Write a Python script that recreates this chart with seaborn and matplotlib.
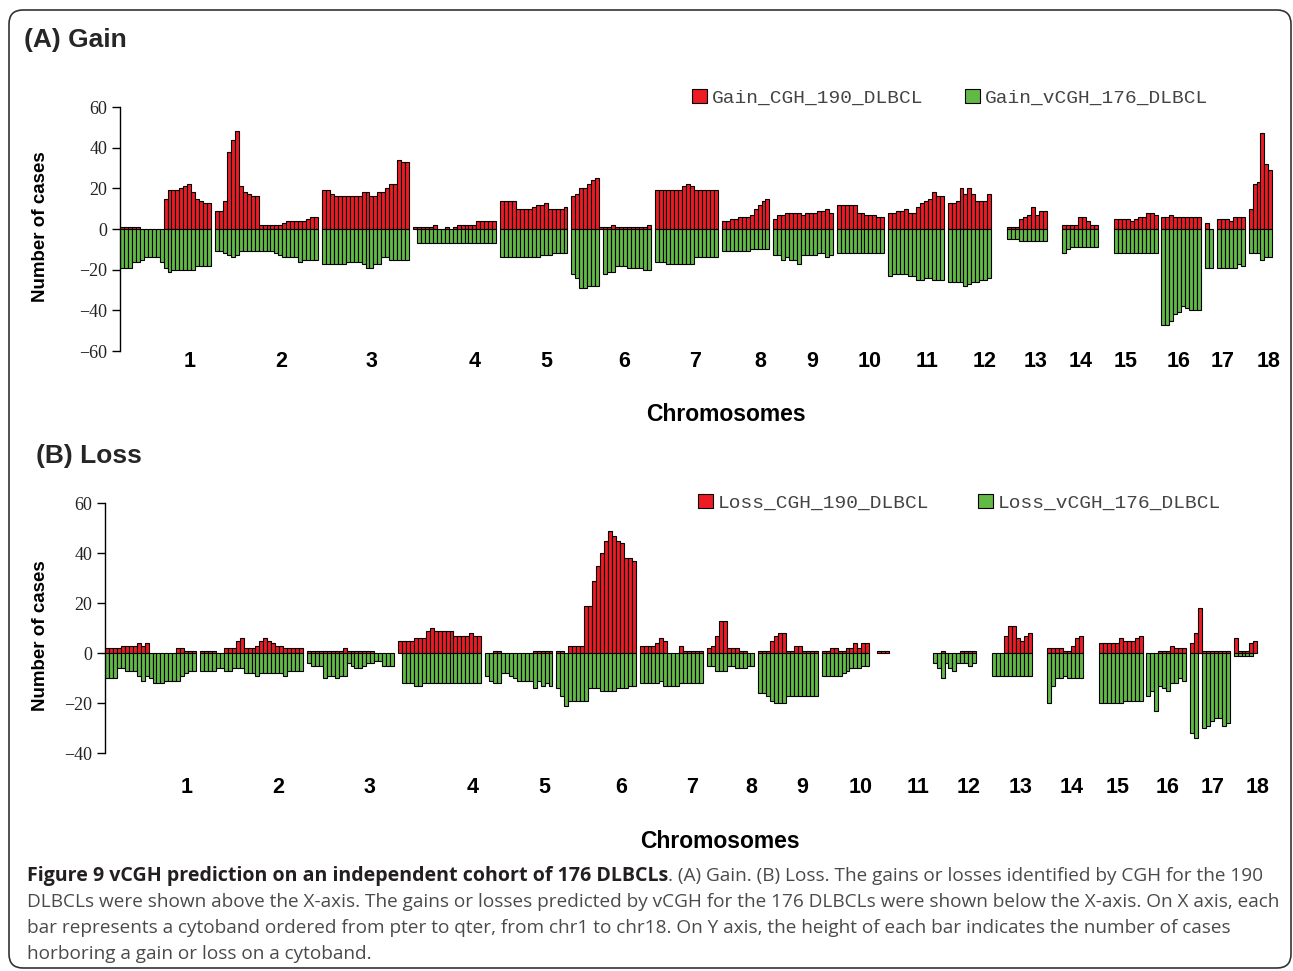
import numpy as np
import pandas as pd
import matplotlib
matplotlib.use("Agg")
import matplotlib.pyplot as plt
from matplotlib.patches import Patch, FancyBboxPatch
from matplotlib.transforms import IdentityTransform
import seaborn as sns

# ---------------- data ----------------
chromosomes = [str(i) for i in range(1, 19)]

# cytobands ordered pter->qter, chr1..chr18 (0 = no case / empty band)
gain_cgh = [
    1, 1, 1, 1, 1, 0, 0, 0, 0, 0, 0, 15, 19, 19, 19, 20, 21, 22, 18, 15, 14, 13, 13, 0,
    9, 9, 14, 38, 44, 48, 21, 18, 17, 16, 16, 2, 2, 2, 2, 2, 2, 3, 4, 4, 4, 4, 4, 5, 6, 6, 0,
    19, 19, 17, 16, 16, 16, 16, 16, 16, 16, 18, 18, 16, 16, 18, 18, 20, 22, 22, 34, 33, 33, 0,
    1, 1, 1, 1, 1, 2, 0, 0, 1, 0, 1, 2, 2, 2, 2, 2, 4, 4, 4, 4, 4, 0,
    14, 14, 14, 14, 10, 10, 10, 10, 11, 12, 12, 13, 10, 10, 10, 10, 11, 0,
    16, 17, 20, 20, 22, 24, 25,
    1, 1, 1, 2, 1, 1, 1, 1, 1, 1, 1, 1, 2, 0,
    19, 19, 19, 19, 19, 19, 19, 21, 22, 21, 19, 19, 19, 19, 19, 19, 0,
    4, 4, 5, 5, 6, 6, 6, 7, 10, 12, 14, 15, 0,
    5, 7, 7, 8, 8, 8, 8, 7, 8, 8, 8, 9, 9, 10, 8, 0,
    12, 12, 12, 12, 12, 8, 8, 7, 7, 7, 6, 6, 0,
    8, 8, 9, 9, 10, 8, 8, 11, 13, 14, 15, 18, 16, 16, 0,
    13, 13, 14, 20, 17, 20, 17, 14, 14, 14, 17, 0, 0, 0, 0,
    1, 1, 1, 5, 6, 7, 11, 7, 9, 9, 0, 0, 0, 0,
    2, 2, 2, 2, 6, 6, 4, 2, 2, 0, 0, 0, 0,
    5, 5, 5, 5, 4, 5, 6, 6, 8, 8, 7, 0,
    6, 6, 7, 6, 6, 6, 6, 6, 6, 6, 0,
    3, 0, 0,
    5, 5, 5, 4, 6, 6, 6, 0,
    10, 22, 23, 47, 32, 29,
]
gain_vcgh = [
    -19, -19, -19, -16, -16, -15, -14, -14, -14, -14, -16, -19, -21, -20, -20, -20, -20, -20, -20, -18, -18, -18, -18, 0,
    -11, -11, -12, -13, -14, -13, -11, -11, -11, -11, -11, -11, -11, -11, -11, -12, -13, -14, -14, -14, -14, -16, -15, -15, -15, -15, 0,
    -17, -17, -17, -17, -17, -17, -16, -16, -16, -16, -17, -19, -19, -17, -17, -14, -14, -15, -15, -15, -15, -15, 0,
    0, -7, -7, -7, -7, -7, -7, -7, -7, -7, -7, -7, -7, -7, -7, -7, -7, -7, -7, -7, -7, 0,
    -14, -14, -14, -14, -14, -14, -14, -14, -14, -14, -13, -13, -13, -12, -12, -12, -12, 0,
    -22, -24, -29, -29, -28, -28, -28,
    0, -22, -21, -21, -18, -18, -18, -19, -19, -19, -19, -20, -20, 0,
    -16, -16, -16, -17, -17, -17, -17, -17, -17, -17, -14, -14, -14, -14, -14, -14, 0,
    -11, -11, -11, -11, -11, -11, -11, -10, -10, -10, -10, -10, 0,
    -13, -13, -15, -14, -15, -15, -17, -13, -13, -13, -13, -12, -12, -14, -13, 0,
    -12, -12, -12, -12, -12, -12, -12, -12, -12, -12, -12, -12, 0,
    -23, -22, -22, -22, -22, -23, -23, -25, -25, -24, -24, -25, -25, -25, 0,
    -26, -26, -26, -26, -28, -27, -26, -26, -25, -25, -24, 0, 0, 0, 0,
    -5, -5, -5, -6, -6, -6, -6, -6, -6, -6, 0, 0, 0, 0,
    -12, -10, -9, -9, -9, -9, -9, -9, -9, 0, 0, 0, 0,
    -12, -12, -12, -12, -12, -12, -12, -12, -12, -12, -12, 0,
    -47, -47, -45, -42, -41, -38, -39, -40, -40, -40, 0,
    -19, -19, 0,
    -19, -19, -19, -19, -19, -17, -18, 0,
    -12, -12, -12, -15, -14, -14,
]
loss_cgh = [
    2, 2, 2, 2, 3, 3, 3, 3, 4, 3, 4, 0, 0, 0, 0, 0, 0, 0, 2, 2, 1, 1, 1, 0,
    1, 1, 1, 1, 0, 0, 2, 2, 2, 5, 6, 2, 2, 2, 3, 5, 6, 5, 4, 3, 3, 2, 2, 2, 2, 2, 0,
    1, 1, 1, 1, 1, 1, 1, 1, 1, 2, 1, 1, 1, 1, 1, 1, 1, 0, 0, 0, 0, 0, 0,
    5, 5, 5, 5, 6, 6, 6, 9, 10, 9, 9, 9, 9, 9, 7, 7, 7, 7, 8, 7, 7, 0,
    0, 0, 1, 1, 0, 0, 0, 0, 0, 0, 0, 0, 1, 1, 1, 1, 1, 0,
    1, 1, 0, 3, 3, 3, 3,
    19, 19, 29, 35, 40, 45, 49, 47, 45, 44, 38, 38, 37, 0,
    3, 3, 3, 3, 4, 6, 5, 0, 0, 0, 3, 1, 1, 1, 1, 1, 0,
    2, 3, 7, 13, 13, 2, 2, 2, 1, 1, 0, 0, 0,
    1, 1, 1, 5, 7, 8, 8, 1, 1, 3, 3, 1, 1, 1, 1, 0,
    1, 1, 2, 2, 1, 1, 2, 2, 4, 2, 4, 4, 0,
    0, 1, 1, 1, 0, 0, 0, 0, 0, 0, 0, 0, 0, 0, 0,
    0, 0, 1, 0, 0, 0, 0, 1, 1, 1, 1, 0, 0, 0, 0,
    0, 0, 0, 7, 11, 11, 6, 5, 7, 8, 0, 0, 0, 0,
    2, 2, 2, 2, 1, 1, 3, 6, 7, 0, 0, 0, 0,
    4, 4, 4, 4, 4, 6, 5, 5, 5, 6, 7, 0,
    0, 0, 0, 1, 1, 1, 3, 2, 2, 2, 0,
    4, 8, 18,
    1, 1, 1, 1, 1, 1, 1, 0,
    6, 1, 1, 1, 4, 5,
]
loss_vcgh = [
    -10, -10, -10, -6, -6, -7, -7, -7, -9, -11, -9, -10, -12, -12, -12, -11, -11, -11, -11, -9, -8, -7, -7, 0,
    -7, -7, -7, -7, -6, -6, -7, -7, -6, -6, -6, -8, -8, -8, -9, -8, -8, -8, -8, -8, -8, -9, -7, -7, -7, -7, 0,
    -4, -5, -5, -5, -10, -9, -9, -10, -9, -9, -4, -5, -6, -6, -5, -4, -4, -3, -3, -5, -5, -5, 0,
    0, -12, -12, -12, -13, -13, -12, -12, -12, -12, -12, -12, -12, -12, -12, -12, -12, -12, -12, -12, -12, 0,
    -9, -11, -12, -12, -8, -8, -9, -10, -11, -11, -11, -11, -14, -11, -13, -12, -13, 0,
    -14, -17, -21, -19, -19, -19, -19,
    -19, -14, -14, -14, -15, -15, -15, -15, -14, -14, -14, -13, -13, 0,
    -12, -12, -12, -12, -12, -11, -13, -13, -13, -13, -12, -12, -12, -12, -12, -12, 0,
    -5, -5, -7, -7, -7, -5, -5, -6, -6, -6, -5, -5, 0,
    -16, -16, -17, -19, -20, -20, -20, -17, -17, -17, -17, -17, -17, -17, -17, 0,
    -9, -9, -9, -9, -9, -8, -7, -6, -6, -6, -5, -5, 0,
    0, 0, 0, 0, 0, 0, 0, 0, 0, 0, 0, 0, 0, 0, 0,
    -4, -6, -10, -4, -6, -7, -4, -4, -4, -5, -4, 0, 0, 0, 0,
    -9, -9, -9, -9, -9, -9, -9, -9, -9, -9, 0, 0, 0, 0,
    -20, -13, -10, -10, -9, -10, -10, -10, -10, 0, 0, 0, 0,
    -20, -20, -20, -20, -20, -20, -19, -19, -19, -19, -19, 0,
    -17, -15, -23, -13, -14, -15, -12, -12, -10, -11, 0,
    -32, -34, 0,
    -30, -29, -27, -26, -26, -29, -28, 0,
    -1, -1, -1, -1, -1, 0,
]

gain_labels = ["Gain_CGH_190_DLBCL", "Gain_vCGH_176_DLBCL"]
loss_labels = ["Loss_CGH_190_DLBCL", "Loss_vCGH_176_DLBCL"]
gain_yticks = [60, 40, 20, 0, -20, -40, -60]
loss_yticks = [60, 40, 20, 0, -20, -40]

# chromosome label positions (in cytoband index units)
gain_label_pos = [17.2, 40.2, 63.1, 89.1, 107.1, 126.8, 144.7, 161.1, 174.2, 188.9,
                  203.3, 217.9, 230.8, 242.2, 253.5, 266.7, 278.0, 289.6]
loss_label_pos = [20.2, 43.2, 66.2, 92.4, 110.4, 129.8, 147.7, 162.6, 175.5, 190.2,
                  204.8, 217.7, 230.6, 243.7, 255.1, 267.9, 279.3, 290.6]

caption_bold = "Figure 9 vCGH prediction on an independent cohort of 176 DLBCLs"
caption_lines = [
    ". (A) Gain. (B) Loss. The gains or losses identified by CGH for the 190",
    "DLBCLs were shown above the X-axis. The gains or losses predicted by vCGH for the 176 DLBCLs were shown below the X-axis. On X axis, each",
    "bar represents a cytoband ordered from pter to qter, from chr1 to chr18. On Y axis, the height of each bar indicates the number of cases",
    "horboring a gain or loss on a cytoband.",
]

# ---------------- style ----------------
RED = "#ED1C24"
GREEN = "#62B946"
W, H = 1293, 971
sns.set_style("white")
plt.rcParams["font.family"] = ["Liberation Sans", "DejaVu Sans"]

fig = plt.figure(figsize=(W / 100, H / 100), dpi=100)
fig.patch.set_facecolor("white")

ax1 = fig.add_axes([120 / W, 1 - 351 / H, 1155 / W, 244 / H])
ax2 = fig.add_axes([105 / W, 1 - 753 / H, 1155 / W, 250 / H])

XMAX = -0.5 + 1155 / 3.96


def panel(ax, cgh, vcgh, labels, yticks, label_pos, leg_xy, colsp, tick_pad,
          xlab_xy, ylab_xy):
    df = pd.DataFrame({"band": np.arange(len(cgh)), "cgh": cgh, "vcgh": vcgh})
    up = df[df["cgh"] != 0]
    down = df[df["vcgh"] != 0]
    sns.barplot(data=up, x="band", y="cgh", native_scale=True, width=1.0,
                color=RED, saturation=1, edgecolor="black", linewidth=0.8,
                errorbar=None, ax=ax)
    sns.barplot(data=down, x="band", y="vcgh", native_scale=True, width=1.0,
                color=GREEN, saturation=1, edgecolor="black", linewidth=0.8,
                errorbar=None, ax=ax)
    ax.set_xlim(-0.5, XMAX)
    ax.set_ylim(min(yticks), max(yticks))
    for s in ["top", "right", "bottom"]:
        ax.spines[s].set_visible(False)
    ax.spines["left"].set_color("black")
    ax.spines["left"].set_linewidth(1.0)
    ax.set_yticks(yticks)
    ax.set_yticklabels([str(v).replace("-", "\u2212") for v in yticks],
                       family="Liberation Serif", fontsize=13, color="#222222")
    ax.tick_params(axis="y", direction="out", length=6, width=1.0, pad=3,
                   color="black", left=True)
    ax.set_xticks(label_pos)
    ax.set_xticklabels(chromosomes, fontweight="bold", fontsize=15.5, color="black")
    ax.tick_params(axis="x", length=0, pad=tick_pad, bottom=True)
    ax.set_xlabel("Chromosomes", fontweight="bold", fontsize=16.5, color="black")
    ax.xaxis.label.set_verticalalignment("baseline")
    ax.xaxis.set_label_coords(*xlab_xy)
    ax.set_ylabel("Number of cases", fontweight="bold", fontsize=13.5, color="black")
    ax.yaxis.set_label_coords(*ylab_xy)
    ax.grid(False)
    handles = [Patch(facecolor=RED, edgecolor="black", linewidth=0.8),
               Patch(facecolor=GREEN, edgecolor="black", linewidth=0.8)]
    leg = ax.legend(handles, labels, ncol=2, loc="upper left",
                    bbox_to_anchor=(leg_xy[0] / W, 1 - leg_xy[1] / H),
                    bbox_transform=fig.transFigure, frameon=False, borderpad=0,
                    borderaxespad=0, handlelength=0.75, handleheight=0.75,
                    handletextpad=0.28, columnspacing=colsp,
                    prop={"family": "Liberation Mono", "size": 14})
    for t in leg.get_texts():
        t.set_color("#444444")


panel(ax1, gain_cgh, gain_vcgh, gain_labels, gain_yticks, gain_label_pos,
      (692, 89), 2.15, 0, ((726 - 120) / 1155, (351 - 421) / 244),
      ((49 - 120) / 1155, (351 - 227) / 244))
panel(ax2, loss_cgh, loss_vcgh, loss_labels, loss_yticks, loss_label_pos,
      (698, 494), 2.5, 17, ((720 - 105) / 1155, (753 - 848) / 250),
      ((49 - 105) / 1155, (753 - 636) / 250))

# panel titles
fig.text(24 / W, 1 - 47 / H, "(A) Gain", fontweight="bold", fontsize=19, va="baseline")
fig.text(36 / W, 1 - 463 / H, "(B) Loss", fontweight="bold", fontsize=19, va="baseline")

# caption
renderer = fig.canvas.get_renderer()
probe = fig.text(0, 0, caption_lines[1], family="Open Sans", fontsize=12)
cap_fs = 12 * 1246 / probe.get_window_extent(renderer).width
probe.remove()
baselines = [881, 907, 933, 959]
x0 = 27
tb = fig.text(x0 / W, 1 - baselines[0] / H, caption_bold, family="Open Sans",
              fontweight="bold", fontsize=cap_fs * 1.034, color="#231f20", va="baseline")
bw = tb.get_window_extent(renderer).width
fig.text((x0 + bw) / W, 1 - baselines[0] / H, caption_lines[0], family="Open Sans",
         fontsize=cap_fs, color="#4a4a4a", va="baseline")
for line, yb in zip(caption_lines[1:], baselines[1:]):
    fig.text(x0 / W, 1 - yb / H, line, family="Open Sans", fontsize=cap_fs,
             color="#4a4a4a", va="baseline")

# rounded frame
frame = FancyBboxPatch((9, H - 968), 1282, 958, boxstyle="round,pad=0,rounding_size=14",
                       transform=IdentityTransform(), fill=False, edgecolor="#333333",
                       linewidth=1.2)
fig.add_artist(frame)

fig.savefig("out.png", dpi=100)
